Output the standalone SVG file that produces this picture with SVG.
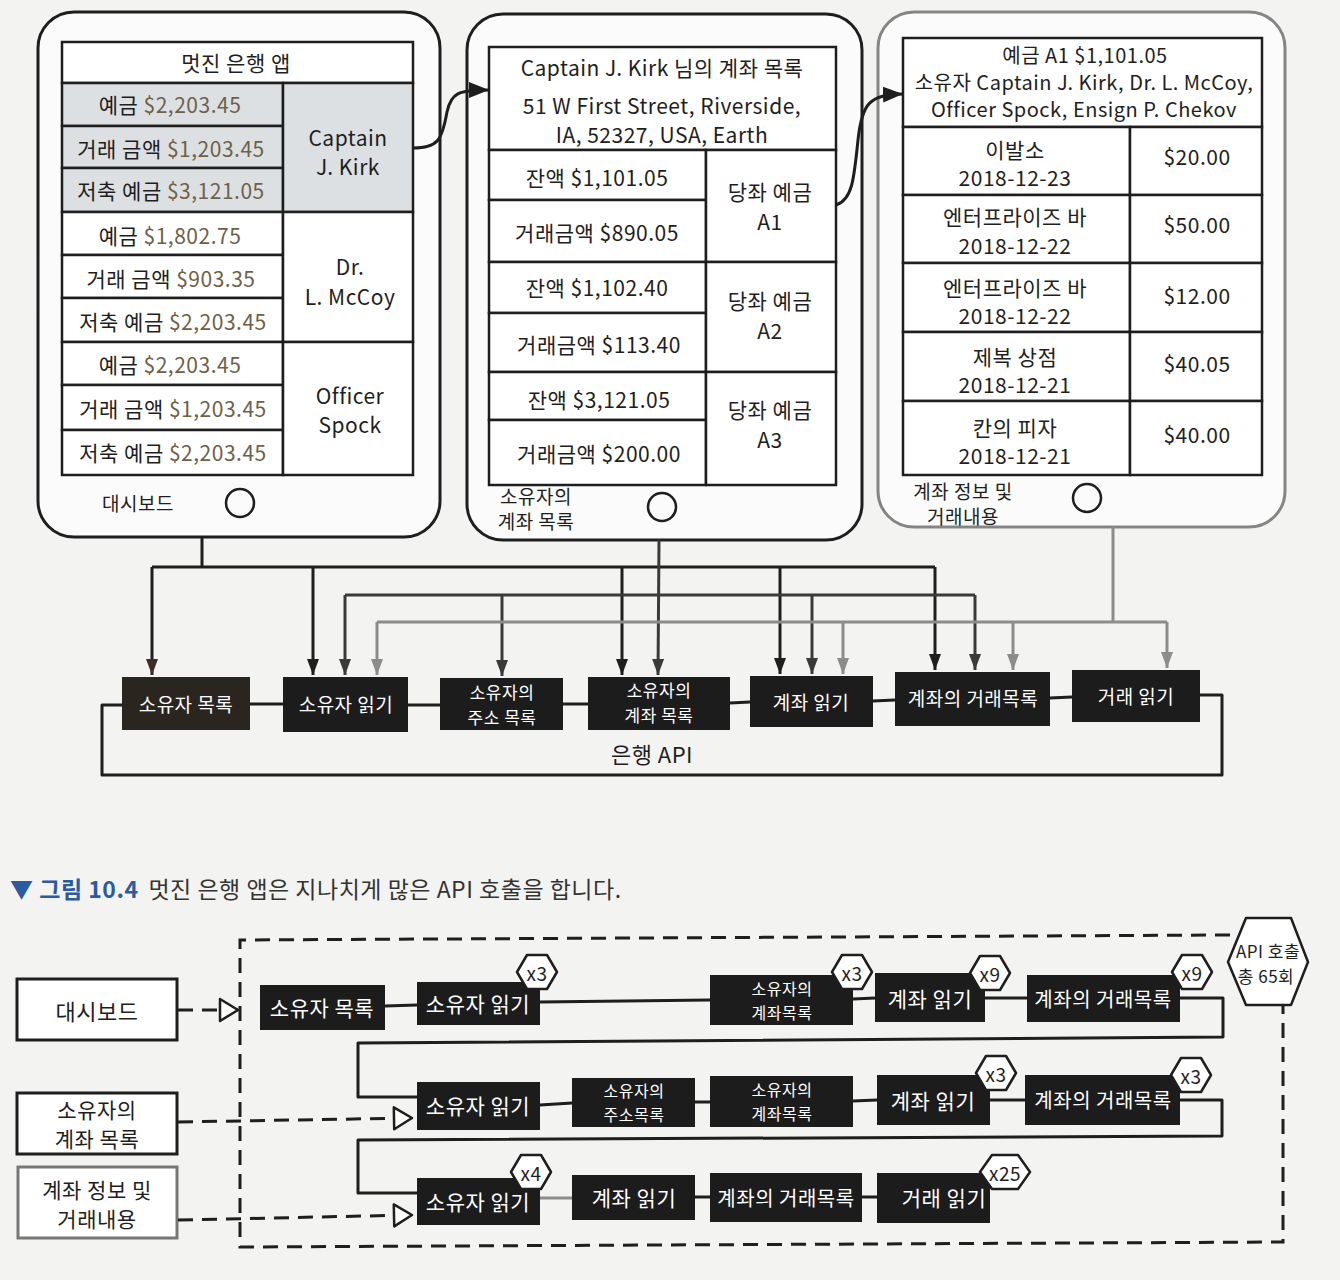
<svg xmlns="http://www.w3.org/2000/svg" width="1340" height="1280" viewBox="0 0 1340 1280">
<style>
.t{font-family:"Noto Sans CJK KR","Noto Sans",sans-serif;font-size:21px;letter-spacing:0.5px;fill:#1e1e1e;text-anchor:middle;dominant-baseline:central}
.s16{font-size:16px}.s17{font-size:17px}.s18{font-size:18px}.s19{font-size:19px}.s20{font-size:20px}.s22{font-size:22px}
.w{fill:#fff}
.amt{fill:#6e6048}
.phone{fill:#fbfbfb;stroke:#1e1e1e;stroke-width:3}
.phoneg{fill:#fbfbfb;stroke:#858585;stroke-width:3}
.cell{fill:#fff;stroke:#1e1e1e;stroke-width:2.5}
.cellg{fill:#dde0e2;stroke:#1e1e1e;stroke-width:2.5}
.btn{fill:none;stroke:#1e1e1e;stroke-width:2.5}
.box{fill:#1c1c1c}
.box0{fill:#2b2520}
.ln{fill:none;stroke:#1e1e1e;stroke-width:3;stroke-linejoin:round}
.l1{fill:none;stroke:#1e1e1e;stroke-width:3}
.l2{fill:none;stroke:#3a3a3a;stroke-width:3}
.l3{fill:none;stroke:#8c8c8c;stroke-width:3}
.dash{fill:none;stroke:#1e1e1e;stroke-width:3;stroke-dasharray:15 9}
.hex{fill:#fff;stroke:#1e1e1e;stroke-width:2.5;stroke-linejoin:round}
.wbox{fill:#fff;stroke:#1e1e1e;stroke-width:3}
.wboxg{fill:#fff;stroke:#777;stroke-width:3}
</style>
<defs>
<marker id="a1" markerUnits="userSpaceOnUse" markerWidth="16" markerHeight="12" refX="16" refY="6" orient="auto"><path d="M0,0 L16,6 L0,12 z" fill="#1e1e1e"/></marker>
<marker id="a2" markerUnits="userSpaceOnUse" markerWidth="16" markerHeight="12" refX="16" refY="6" orient="auto"><path d="M0,0 L16,6 L0,12 z" fill="#3a3a3a"/></marker>
<marker id="a3" markerUnits="userSpaceOnUse" markerWidth="16" markerHeight="12" refX="16" refY="6" orient="auto"><path d="M0,0 L16,6 L0,12 z" fill="#8c8c8c"/></marker>
<marker id="a0" markerUnits="userSpaceOnUse" markerWidth="16" markerHeight="12" refX="16" refY="6" orient="auto"><path d="M0,0 L16,6 L0,12 z" fill="#3a2e25"/></marker>
<marker id="big" markerUnits="userSpaceOnUse" markerWidth="20" markerHeight="16" refX="20" refY="8" orient="auto"><path d="M0,0 L20,8 L0,16 z" fill="#1e1e1e"/></marker>
<marker id="open" markerUnits="userSpaceOnUse" markerWidth="22" markerHeight="26" refX="20" refY="13" orient="auto"><path d="M2,2 L20,13 L2,24 z" fill="#fff" stroke="#1e1e1e" stroke-width="2.5" stroke-linejoin="round"/></marker>
</defs>
<rect width="1340" height="1280" fill="#f3f3f1"/>

<!-- Phone 1 -->
<g id="phone-dashboard">
<rect class="phone" x="38" y="12" width="402" height="525" rx="36"/>
<rect class="cell" x="62" y="42" width="351" height="41"/>
<text class="t" x="236" y="62">멋진 은행 앱</text>
<rect class="cellg" x="62" y="83" width="221" height="43"/>
<rect class="cellg" x="62" y="126" width="221" height="42"/>
<rect class="cellg" x="62" y="168" width="221" height="44"/>
<rect class="cell" x="62" y="212" width="221" height="43"/>
<rect class="cell" x="62" y="255" width="221" height="43"/>
<rect class="cell" x="62" y="298" width="221" height="44"/>
<rect class="cell" x="62" y="342" width="221" height="43"/>
<rect class="cell" x="62" y="385" width="221" height="45"/>
<rect class="cell" x="62" y="430" width="221" height="45"/>
<rect class="cellg" x="283" y="83" width="130" height="129"/>
<rect class="cell" x="283" y="212" width="130" height="130"/>
<rect class="cell" x="283" y="342" width="130" height="133"/>
<text class="t" x="170" y="104">예금 <tspan class="amt">$2,203.45</tspan></text>
<text class="t" x="171" y="148">거래 금액 <tspan class="amt">$1,203.45</tspan></text>
<text class="t" x="171" y="190">저축 예금 <tspan class="amt">$3,121.05</tspan></text>
<text class="t" x="170" y="235">예금 <tspan class="amt">$1,802.75</tspan></text>
<text class="t" x="171" y="278">거래 금액 <tspan class="amt">$903.35</tspan></text>
<text class="t" x="173" y="321">저축 예금 <tspan class="amt">$2,203.45</tspan></text>
<text class="t" x="170" y="364">예금 <tspan class="amt">$2,203.45</tspan></text>
<text class="t" x="173" y="408">거래 금액 <tspan class="amt">$1,203.45</tspan></text>
<text class="t" x="173" y="452">저축 예금 <tspan class="amt">$2,203.45</tspan></text>
<text class="t" x="348" y="137">Captain</text>
<text class="t" x="348" y="166">J. Kirk</text>
<text class="t" x="350" y="266">Dr.</text>
<text class="t" x="350" y="296">L. McCoy</text>
<text class="t" x="350" y="395">Officer</text>
<text class="t" x="350" y="424">Spock</text>
<text class="t s19" x="138" y="502">대시보드</text>
<circle class="btn" cx="240" cy="503" r="14"/>
</g>

<!-- Phone 2 -->
<g id="phone-accounts">
<rect class="phone" x="467" y="14" width="395" height="526" rx="36"/>
<rect class="cell" x="489" y="47" width="347" height="103"/>
<text class="t" x="662" y="67">Captain J. Kirk 님의 계좌 목록</text>
<text class="t" x="662" y="105">51 W First Street, Riverside,</text>
<text class="t" x="662" y="134">IA, 52327, USA, Earth</text>
<rect class="cell" x="489" y="150" width="217" height="50"/>
<rect class="cell" x="489" y="200" width="217" height="62"/>
<rect class="cell" x="489" y="262" width="217" height="51"/>
<rect class="cell" x="489" y="313" width="217" height="59"/>
<rect class="cell" x="489" y="372" width="217" height="48"/>
<rect class="cell" x="489" y="420" width="217" height="65"/>
<rect class="cell" x="706" y="150" width="130" height="112"/>
<rect class="cell" x="706" y="262" width="130" height="110"/>
<rect class="cell" x="706" y="372" width="130" height="113"/>
<text class="t" x="597" y="177">잔액 $1,101.05</text>
<text class="t" x="597" y="232">거래금액 $890.05</text>
<text class="t" x="597" y="287">잔액 $1,102.40</text>
<text class="t" x="599" y="344">거래금액 $113.40</text>
<text class="t" x="599" y="399">잔액 $3,121.05</text>
<text class="t" x="599" y="453">거래금액 $200.00</text>
<text class="t" x="770" y="191">당좌 예금</text>
<text class="t" x="770" y="221">A1</text>
<text class="t" x="770" y="300">당좌 예금</text>
<text class="t" x="770" y="330">A2</text>
<text class="t" x="770" y="409">당좌 예금</text>
<text class="t" x="770" y="439">A3</text>
<text class="t s19" x="536" y="495">소유자의</text>
<text class="t s19" x="536" y="520">계좌 목록</text>
<circle class="btn" cx="662" cy="507" r="14"/>
</g>

<!-- Phone 3 -->
<g id="phone-details">
<rect class="phoneg" x="878" y="12" width="407" height="515" rx="36"/>
<rect class="cell" x="903" y="38" width="359" height="89"/>
<text class="t s20" x="1085" y="54">예금 A1 $1,101.05</text>
<text class="t s20" x="1084" y="81">소유자 Captain J. Kirk, Dr. L. McCoy,</text>
<text class="t s20" x="1084" y="108">Officer Spock, Ensign P. Chekov</text>
<rect class="cell" x="903" y="127" width="227" height="68"/>
<rect class="cell" x="903" y="195" width="227" height="68"/>
<rect class="cell" x="903" y="263" width="227" height="69"/>
<rect class="cell" x="903" y="332" width="227" height="69"/>
<rect class="cell" x="903" y="401" width="227" height="74"/>
<rect class="cell" x="1130" y="127" width="132" height="68"/>
<rect class="cell" x="1130" y="195" width="132" height="68"/>
<rect class="cell" x="1130" y="263" width="132" height="69"/>
<rect class="cell" x="1130" y="332" width="132" height="69"/>
<rect class="cell" x="1130" y="401" width="132" height="74"/>
<g style="letter-spacing:1px">
<text class="t" x="1015" y="149">이발소</text>
<text class="t" x="1015" y="177">2018-12-23</text>
<text class="t" x="1015" y="216">엔터프라이즈 바</text>
<text class="t" x="1015" y="245">2018-12-22</text>
<text class="t" x="1015" y="287">엔터프라이즈 바</text>
<text class="t" x="1015" y="315">2018-12-22</text>
<text class="t" x="1015" y="356">제복 상점</text>
<text class="t" x="1015" y="384">2018-12-21</text>
<text class="t" x="1015" y="427">칸의 피자</text>
<text class="t" x="1015" y="455">2018-12-21</text>
<text class="t" x="1197" y="156">$20.00</text>
<text class="t" x="1197" y="224">$50.00</text>
<text class="t" x="1197" y="295">$12.00</text>
<text class="t" x="1197" y="363">$40.05</text>
<text class="t" x="1197" y="434">$40.00</text>
</g>
<text class="t s19" x="963" y="490">계좌 정보 및</text>
<text class="t s19" x="963" y="515">거래내용</text>
<circle class="btn" cx="1087" cy="498" r="14"/>
</g>

<!-- Bank API -->
<g id="api-frame">
<path class="ln" d="M122,705 L102,705 L102,775 L1222,775 L1222,695 L1200,695"/>
<text class="t s22" x="652" y="753">은행 API</text>
</g>
<g id="api-links">
<path class="ln" d="M250,704 L283,704 M408,705 L440,705 M563,704 L588,704 M730,703 L750,702 M873,701 L895,700 M1050,698 L1072,697"/>
</g>
<g id="api-list-owners"><rect class="box0" x="122" y="677" width="128" height="53"/><text class="t s19 w" x="186" y="703">소유자 목록</text></g>
<g id="api-read-owner"><rect class="box" x="283" y="677" width="125" height="55"/><text class="t s19 w" x="346" y="703">소유자 읽기</text></g>
<g id="api-owner-addresses"><rect class="box" x="440" y="678" width="123" height="52"/><text class="t s17 w" x="502" y="691">소유자의</text><text class="t s17 w" x="502" y="716">주소 목록</text></g>
<g id="api-owner-accounts"><rect class="box" x="588" y="677" width="142" height="53"/><text class="t s17 w" x="659" y="689">소유자의</text><text class="t s17 w" x="659" y="714">계좌 목록</text></g>
<g id="api-read-account"><rect class="box" x="750" y="676" width="123" height="51"/><text class="t s19 w" x="811" y="701">계좌 읽기</text></g>
<g id="api-account-tx"><rect class="box" x="895" y="672" width="155" height="54"/><text class="t s19 w" x="973" y="697">계좌의 거래목록</text></g>
<g id="api-read-tx"><rect class="box" x="1072" y="670" width="128" height="52"/><text class="t s19 w" x="1136" y="695">거래 읽기</text></g>

<!-- Connectors top -->
<g id="connectors-top">
<path class="ln" d="M413,148 C438,148 442,140 447,112 C451,93 458,90 489,90" marker-end="url(#big)"/>
<path class="ln" d="M836,205 C852,200 854,180 858,140 C862,102 870,95 903,94" marker-end="url(#big)"/>
<path class="l1" d="M202,537 L202,567 M152,567 L935,567"/>
<path class="l1" d="M152,567 L152,675" marker-end="url(#a0)"/>
<path class="l1" d="M313,567 L313,675" marker-end="url(#a1)"/>
<path class="l1" d="M622,567 L622,675" marker-end="url(#a1)"/>
<path class="l1" d="M780,567 L780,674" marker-end="url(#a1)"/>
<path class="l1" d="M935,567 L935,670" marker-end="url(#a1)"/>
<path class="l2" d="M659,540 L658,675" marker-end="url(#a2)"/>
<path class="l2" d="M345,595 L975,595"/>
<path class="l2" d="M345,595 L345,675" marker-end="url(#a2)"/>
<path class="l2" d="M502,595 L502,676" marker-end="url(#a2)"/>
<path class="l2" d="M812,595 L812,674" marker-end="url(#a2)"/>
<path class="l2" d="M975,595 L975,670" marker-end="url(#a2)"/>
<path class="l3" d="M1113,527 L1113,622 M377,622 L1167,622"/>
<path class="l3" d="M377,622 L377,675" marker-end="url(#a3)"/>
<path class="l3" d="M843,622 L843,674" marker-end="url(#a3)"/>
<path class="l3" d="M1013,622 L1013,670" marker-end="url(#a3)"/>
<path class="l3" d="M1167,622 L1167,668" marker-end="url(#a3)"/>
</g>

<!-- Caption -->
<text class="t" style="text-anchor:start;font-size:23px" x="10" y="888"><tspan fill="#2c5aa0" font-weight="bold">▼ 그림 10.4</tspan><tspan fill="#333" dx="10">멋진 은행 앱은 지나치게 많은 API 호출을 합니다.</tspan></text>

<!-- Bottom section -->
<g id="call-frame">
<path class="dash" d="M1230,935 L240,940 L240,1247 L1283,1242 L1283,1005"/>
</g>
<g id="total-calls">
<polygon class="hex" points="1228,962 1246,918 1291,918 1308,962 1291,1005 1246,1005"/>
<text class="t s17" x="1268" y="950">API 호출</text>
<text class="t s17" x="1266" y="975">총 65회</text>
</g>

<g id="client-dashboard"><rect class="wbox" x="17" y="979" width="160" height="61"/><text class="t s22" x="97" y="1010">대시보드</text></g>
<g id="client-accounts"><rect class="wbox" x="17" y="1093" width="160" height="61"/><text class="t" x="97" y="1109">소유자의</text><text class="t" x="97" y="1138">계좌 목록</text></g>
<g id="client-details"><rect class="wboxg" x="18" y="1167" width="159" height="71"/><text class="t" x="97" y="1189">계좌 정보 및</text><text class="t" x="97" y="1218">거래내용</text></g>

<g id="connectors-bottom">
<path class="dash" d="M178,1010 L238,1010" marker-end="url(#open)"/>
<path class="dash" d="M178,1122 L412,1118" marker-end="url(#open)"/>
<path class="dash" d="M178,1220 L412,1215" marker-end="url(#open)"/>
<path class="ln" d="M385,1006 L417,1005 M540,1002 L710,1000 M853,999 L875,998 M985,998 L1027,998 M1180,998 L1223,998 L1223,1037 L358,1043 L358,1097 L417,1097"/>
<path class="ln" d="M540,1105 L572,1103 M695,1102 L710,1102 M853,1101 L877,1100 M990,1100 L1025,1100 M1180,1100 L1222,1100 L1222,1136 L358,1140 L358,1193 L417,1193"/>
<path class="ln" style="stroke:#8c8c8c" d="M540,1198 L572,1198"/>
<path class="ln" d="M695,1197 L710,1197 M862,1197 L877,1197"/>
</g>

<g id="r1-list-owners"><rect class="box" x="260" y="985" width="125" height="45"/><text class="t w" x="322" y="1007">소유자 목록</text></g>
<g id="r1-read-owner"><rect class="box" x="417" y="982" width="123" height="43"/><text class="t w" x="478" y="1003">소유자 읽기</text>
<polygon class="hex" points="517,972 527,955 547,955 557,972 547,989 527,989"/><text class="t s19" x="537" y="972">x3</text></g>
<g id="r1-owner-accounts"><rect class="box" x="710" y="975" width="143" height="50"/><text class="t s16 w" x="782" y="988">소유자의</text><text class="t s16 w" x="782" y="1012">계좌목록</text>
<polygon class="hex" points="832,972 842,955 862,955 872,972 862,989 842,989"/><text class="t s19" x="852" y="972">x3</text></g>
<g id="r1-read-account"><rect class="box" x="875" y="973" width="110" height="49"/><text class="t w" x="930" y="998">계좌 읽기</text>
<polygon class="hex" points="970,973 980,956 1000,956 1010,973 1000,990 980,990"/><text class="t s19" x="990" y="973">x9</text></g>
<g id="r1-account-tx"><rect class="box" x="1027" y="975" width="153" height="47"/><text class="t s20 w" x="1103" y="998">계좌의 거래목록</text>
<polygon class="hex" points="1172,972 1182,955 1202,955 1212,972 1202,989 1182,989"/><text class="t s19" x="1192" y="972">x9</text></g>

<g id="r2-read-owner"><rect class="box" x="417" y="1082" width="123" height="48"/><text class="t w" x="478" y="1105">소유자 읽기</text></g>
<g id="r2-owner-addresses"><rect class="box" x="572" y="1078" width="123" height="49"/><text class="t s16 w" x="634" y="1090">소유자의</text><text class="t s16 w" x="634" y="1114">주소목록</text></g>
<g id="r2-owner-accounts"><rect class="box" x="710" y="1076" width="143" height="51"/><text class="t s16 w" x="782" y="1089">소유자의</text><text class="t s16 w" x="782" y="1113">계좌목록</text></g>
<g id="r2-read-account"><rect class="box" x="877" y="1075" width="113" height="50"/><text class="t w" x="933" y="1100">계좌 읽기</text>
<polygon class="hex" points="976,1073 986,1056 1006,1056 1016,1073 1006,1090 986,1090"/><text class="t s19" x="996" y="1073">x3</text></g>
<g id="r2-account-tx"><rect class="box" x="1025" y="1075" width="155" height="50"/><text class="t s20 w" x="1103" y="1099">계좌의 거래목록</text>
<polygon class="hex" points="1171,1075 1181,1058 1201,1058 1211,1075 1201,1092 1181,1092"/><text class="t s19" x="1191" y="1075">x3</text></g>

<g id="r3-read-owner"><rect class="box" x="417" y="1178" width="123" height="47"/><text class="t w" x="478" y="1201">소유자 읽기</text>
<polygon class="hex" points="511,1172 521,1155 541,1155 551,1172 541,1189 521,1189"/><text class="t s19" x="531" y="1172">x4</text></g>
<g id="r3-read-account"><rect class="box" x="572" y="1175" width="123" height="45"/><text class="t w" x="634" y="1197">계좌 읽기</text></g>
<g id="r3-account-tx"><rect class="box" x="710" y="1173" width="152" height="49"/><text class="t s20 w" x="786" y="1197">계좌의 거래목록</text></g>
<g id="r3-read-tx"><rect class="box" x="877" y="1173" width="113" height="50"/><text class="t w" x="944" y="1197">거래 읽기</text>
<polygon class="hex" points="980,1172 992,1155 1018,1155 1030,1172 1018,1189 992,1189"/><text class="t s19" x="1005" y="1172">x25</text></g>
</svg>
